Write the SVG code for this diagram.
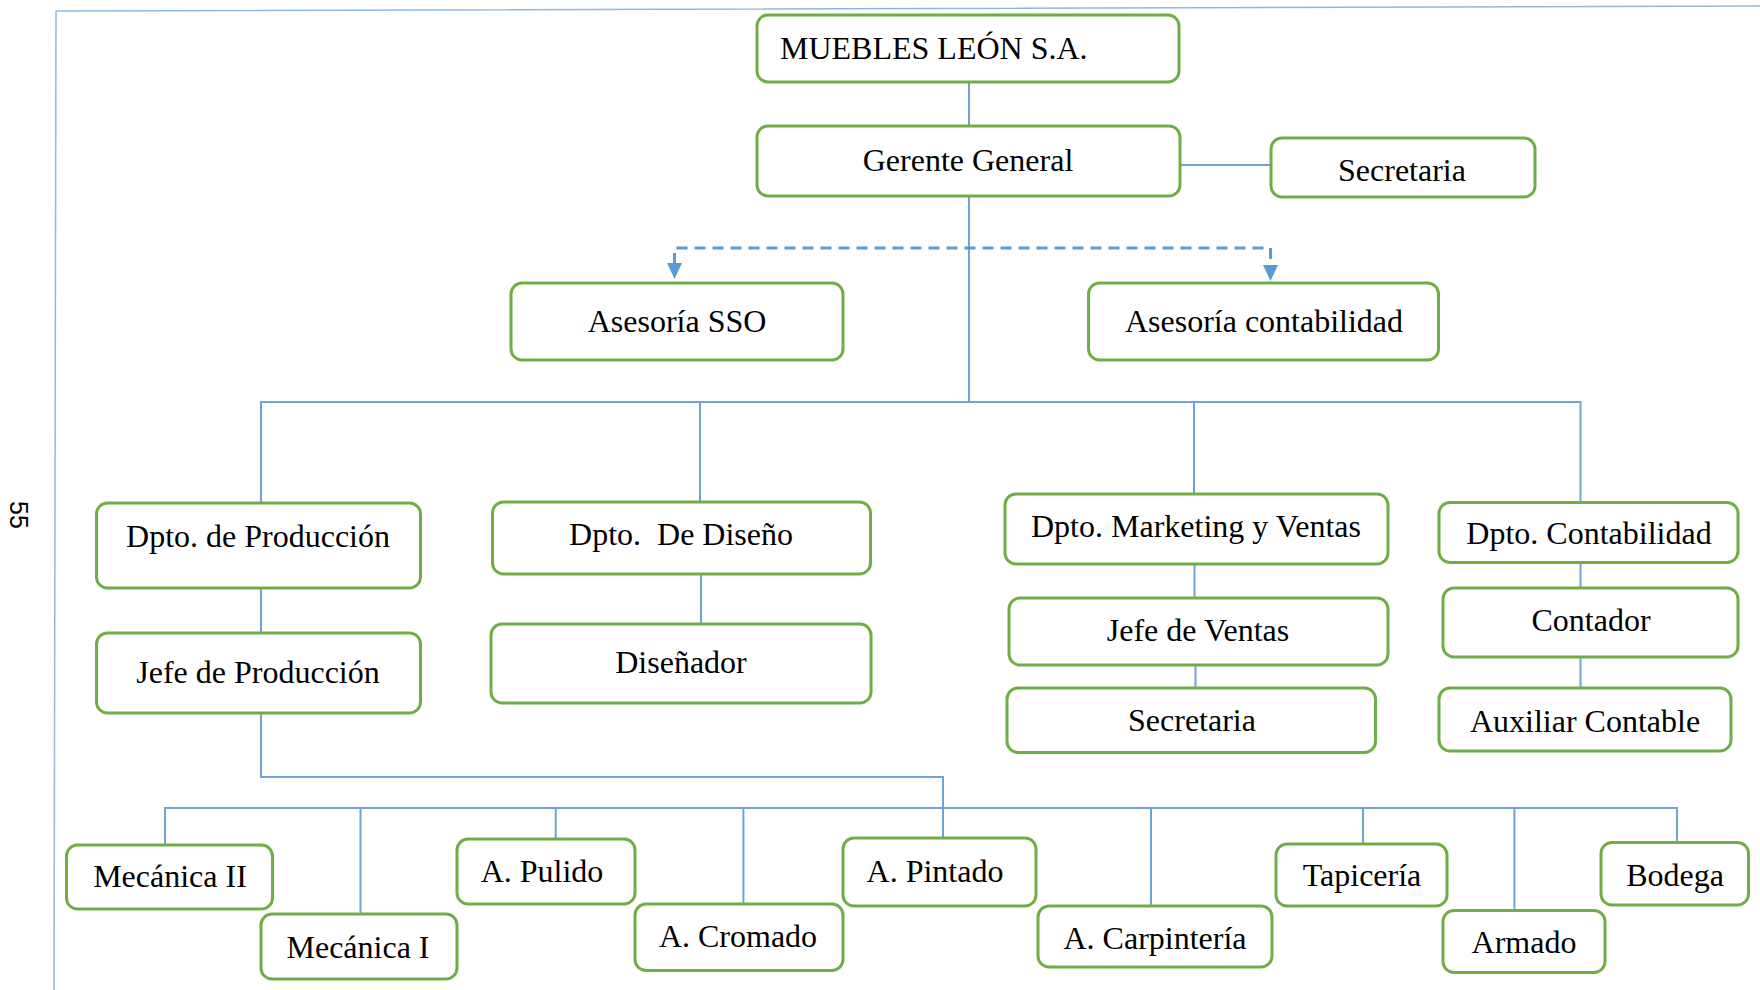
<svg xmlns="http://www.w3.org/2000/svg" width="1760" height="990" viewBox="0 0 1760 990">
<style>
.box{fill:#ffffff;stroke:#70AD47;stroke-width:3}
.t{font-family:"Liberation Serif","Times New Roman",serif;font-size:32px;fill:#000;text-anchor:middle}
.c{fill:none;stroke:#6FA3DA;stroke-width:2}
.d{fill:none;stroke:#5B9BD5;stroke-width:3;stroke-dasharray:11 7}
.ah{fill:#5B9BD5}
.border{fill:none;stroke:#8DB8E6;stroke-width:1.5}
</style>
<rect width="1760" height="990" fill="#ffffff"/>
<g id="page">
<path class="border" d="M56,11 L1760,6 M56,11 L54,990"/>
<text x="0" y="0" transform="translate(10,515) rotate(90)" font-family="Liberation Sans, Arial, sans-serif" font-size="25" text-anchor="middle" fill="#000">55</text>
</g>
<g id="connectors">
<path class="c" d="M969,82 V126"/>
<path class="c" d="M969,196 V402"/>
<path class="c" d="M1180,165 H1271"/>
<path class="c" d="M261,503 V402 H1580.5 V503"/>
<path class="c" d="M700,402 V502"/>
<path class="c" d="M1194,402 V494"/>
<path class="c" d="M261,588 V633"/>
<path class="c" d="M701,574 V624"/>
<path class="c" d="M1194.5,564 V598"/>
<path class="c" d="M1195.5,665 V688"/>
<path class="c" d="M1580.5,563 V588"/>
<path class="c" d="M1580.5,657 V688"/>
<path class="c" d="M261,713 V777 H943 V838"/>
<path class="c" d="M165,844 V808 H1677 V843"/>
<path class="c" d="M360.5,808 V914"/>
<path class="c" d="M555.7,808 V839"/>
<path class="c" d="M743.4,808 V904"/>
<path class="c" d="M1151,808 V906"/>
<path class="c" d="M1363,808 V844"/>
<path class="c" d="M1514.4,808 V910"/>
<path class="d" d="M674.5,264 V248 H1270.5 V265"/>
<polygon class="ah" points="667,263 682,263 674.5,279"/>
<polygon class="ah" points="1263,265 1278,265 1270.5,281"/>
</g>
<g id="muebles"><rect class="box" x="757" y="15" width="422" height="67" rx="11"/><text class="t" x="780" y="59" style="text-anchor:start">MUEBLES LEÓN S.A.</text></g>
<g id="gerente"><rect class="box" x="757" y="126" width="423" height="70" rx="11"/><text class="t" x="968" y="171">Gerente General</text></g>
<g id="secretaria1"><rect class="box" x="1271" y="138" width="264" height="59" rx="11"/><text class="t" x="1402" y="181">Secretaria</text></g>
<g id="asesoria-sso"><rect class="box" x="511" y="283" width="332" height="77" rx="11"/><text class="t" x="677" y="332">Asesoría SSO</text></g>
<g id="asesoria-contabilidad"><rect class="box" x="1088.5" y="283" width="350" height="77" rx="11"/><text class="t" x="1264" y="332">Asesoría contabilidad</text></g>
<g id="dpto-produccion"><rect class="box" x="96.5" y="503" width="324" height="85" rx="11"/><text class="t" x="258" y="547">Dpto. de Producción</text></g>
<g id="jefe-produccion"><rect class="box" x="96.5" y="633" width="324" height="80" rx="11"/><text class="t" x="258" y="683">Jefe de Producción</text></g>
<g id="dpto-diseno"><rect class="box" x="492.5" y="502" width="378" height="72" rx="11"/><text class="t" x="681" y="545" xml:space="preserve">Dpto.  De Diseño</text></g>
<g id="disenador"><rect class="box" x="491" y="624" width="380" height="79" rx="11"/><text class="t" x="681" y="673">Diseñador</text></g>
<g id="dpto-marketing"><rect class="box" x="1005" y="494" width="383" height="70" rx="11"/><text class="t" x="1196" y="537">Dpto. Marketing y Ventas</text></g>
<g id="jefe-ventas"><rect class="box" x="1009" y="598" width="379" height="67" rx="11"/><text class="t" x="1198" y="641">Jefe de Ventas</text></g>
<g id="secretaria2"><rect class="box" x="1007" y="688" width="368.5" height="64.5" rx="11"/><text class="t" x="1192" y="731">Secretaria</text></g>
<g id="dpto-contabilidad"><rect class="box" x="1439" y="502.5" width="299" height="60" rx="11"/><text class="t" x="1589" y="544">Dpto. Contabilidad</text></g>
<g id="contador"><rect class="box" x="1443" y="588" width="295" height="69" rx="11"/><text class="t" x="1591" y="631">Contador</text></g>
<g id="auxiliar-contable"><rect class="box" x="1439" y="688" width="292" height="63" rx="11"/><text class="t" x="1585" y="732">Auxiliar Contable</text></g>
<g id="mecanica2"><rect class="box" x="66.5" y="845" width="206" height="64" rx="11"/><text class="t" x="170" y="887">Mecánica II</text></g>
<g id="mecanica1"><rect class="box" x="261" y="914" width="196" height="65" rx="11"/><text class="t" x="358" y="958">Mecánica I</text></g>
<g id="pulido"><rect class="box" x="457" y="839" width="178" height="65" rx="11"/><text class="t" x="542" y="882">A. Pulido</text></g>
<g id="cromado"><rect class="box" x="635" y="904" width="208" height="66.5" rx="11"/><text class="t" x="738" y="947">A. Cromado</text></g>
<g id="pintado"><rect class="box" x="843" y="838" width="193" height="68" rx="11"/><text class="t" x="935" y="882">A. Pintado</text></g>
<g id="carpinteria"><rect class="box" x="1038" y="906" width="234" height="61" rx="11"/><text class="t" x="1155" y="949">A. Carpintería</text></g>
<g id="tapiceria"><rect class="box" x="1276" y="844" width="171" height="62" rx="11"/><text class="t" x="1362" y="886">Tapicería</text></g>
<g id="armado"><rect class="box" x="1443" y="910.5" width="162" height="62" rx="11"/><text class="t" x="1524" y="953">Armado</text></g>
<g id="bodega"><rect class="box" x="1601" y="842.5" width="147.5" height="62.5" rx="11"/><text class="t" x="1675" y="886">Bodega</text></g>
</svg>
